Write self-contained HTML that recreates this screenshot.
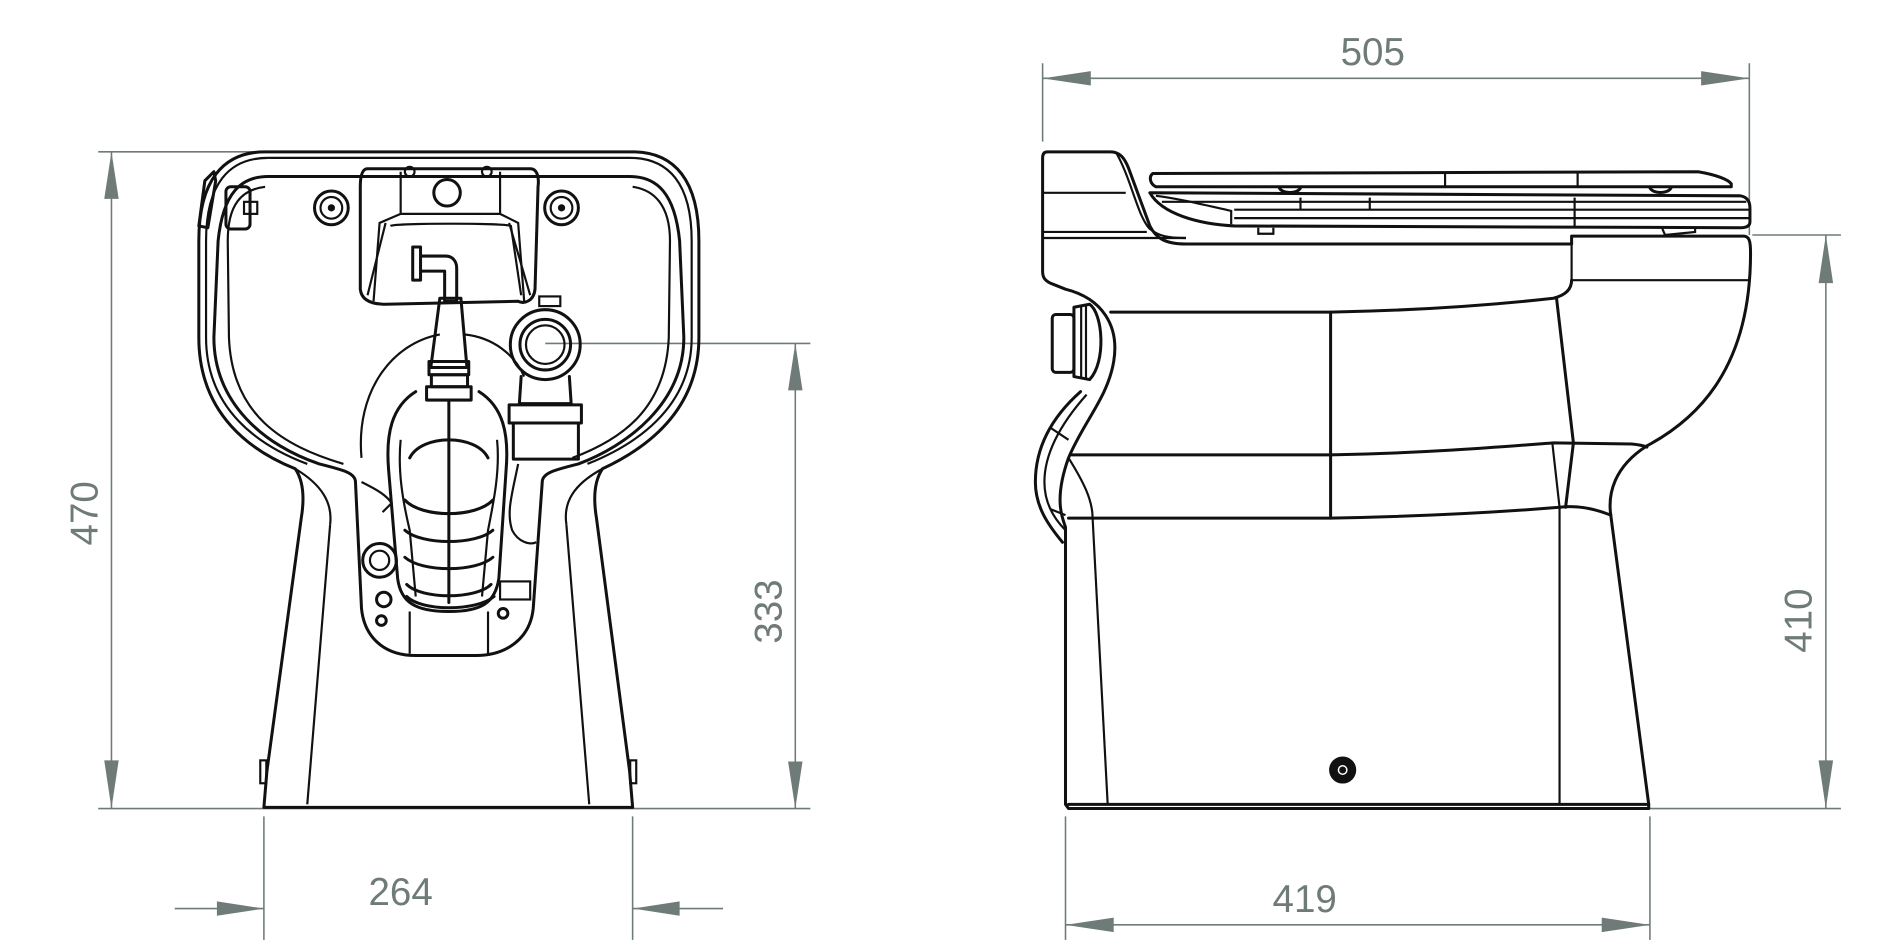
<!DOCTYPE html>
<html><head><meta charset="utf-8"><style>
html,body{margin:0;padding:0;background:#fff;width:1890px;height:945px;overflow:hidden}
svg{display:block}
.d{stroke:#6f7b78;stroke-width:2.6;fill:none}
.a{fill:#6f7b78;stroke:none}
.t{fill:#6f7b78;font-family:"Liberation Sans",sans-serif;font-size:64px}
.k{stroke:#111;stroke-width:5;fill:none;stroke-linejoin:round;stroke-linecap:round}
.kt{stroke:#111;stroke-width:3.6;fill:none}
</style></head><body>
<svg width="1890" height="945" viewBox="0 0 1890 945" xmlns="http://www.w3.org/2000/svg">
<!-- LEFT VIEW -->
<g transform="scale(0.6025)">
  <line class="d" x1="163" y1="252" x2="440" y2="252"/>
  <line class="d" x1="163" y1="1342" x2="1345" y2="1342"/>
  <line class="d" x1="185" y1="252" x2="185" y2="1342"/>
  <polygon class="a" points="185,252 173,330 197,330"/>
  <polygon class="a" points="185,1342 173,1262 197,1262"/>
  <text class="t" transform="translate(162,852) rotate(-90)" text-anchor="middle">470</text>
  <line class="d" x1="905" y1="570" x2="1345" y2="570"/>
  <line class="d" x1="1320" y1="570" x2="1320" y2="1342"/>
  <polygon class="a" points="1320,570 1308,648 1332,648"/>
  <polygon class="a" points="1320,1342 1308,1264 1332,1264"/>
  <text class="t" transform="translate(1297,1015) rotate(-90)" text-anchor="middle">333</text>
  <line class="d" x1="438" y1="1355" x2="438" y2="1560"/>
  <line class="d" x1="1050" y1="1355" x2="1050" y2="1560"/>
  <line class="d" x1="290" y1="1508" x2="438" y2="1508"/>
  <line class="d" x1="1050" y1="1508" x2="1200" y2="1508"/>
  <polygon class="a" points="438,1508 360,1496 360,1520"/>
  <polygon class="a" points="1050,1508 1128,1496 1128,1520"/>
  <text class="t" x="665" y="1502" text-anchor="middle">264</text>
  <path class="k" d="M440,252 L1050,252 C1120,252 1160,300 1160,400 L1160,560 C1160,690 1060,750 1000,778 C985,800 985,830 990,860 L1045,1280 L1050,1340 L438,1340 L443,1280 L500,860 C505,830 505,800 490,778 C420,750 330,690 330,560 L330,400 C330,300 370,252 440,252 Z"/>
  <path class="kt" d="M445,262 L1045,262 C1110,262 1148,305 1148,400 L1148,560 C1148,680 1050,740 975,770"/>
  <path class="kt" d="M445,262 C380,262 342,305 342,400 L342,560 C342,680 430,740 510,770"/>
  <path class="k" d="M445,293 L1045,293 C1090,293 1120,320 1128,400 L1135,560 C1135,670 1040,740 960,770 C920,780 900,785 900,800 L885,1010 C880,1060 840,1088 790,1088 L690,1088 C640,1088 605,1060 600,1010 L590,800 C590,785 570,780 530,770 C440,740 355,670 355,560 L362,400 C370,320 400,293 445,293 Z"/>
  <path class="kt" d="M440,310 C400,315 378,340 378,400 L380,560 C385,690 470,740 570,770"/>
  <path class="kt" d="M1050,310 C1085,315 1112,340 1112,400 L1110,560 C1105,680 1030,730 950,760"/>
  <path class="kt" d="M548,870 L510,1335"/>
  <path class="kt" d="M940,870 L978,1335"/>
  <path class="kt" d="M490,778 C535,805 552,835 548,870"/>
  <path class="kt" d="M1000,778 C950,805 935,835 940,870"/>
  <rect class="kt" x="432" y="1262" width="10" height="38"/>
  <rect class="kt" x="1046" y="1262" width="10" height="38"/>
  <path class="k" d="M355,285 L340,300 L330,375 L345,378 L358,300 Z"/>
  <rect class="k" x="375" y="310" width="40" height="70" rx="8"/>
  <rect class="kt" x="405" y="335" width="22" height="20"/>
  <circle class="k" cx="550" cy="345" r="28"/><circle class="kt" cx="550" cy="345" r="18"/><circle cx="550" cy="345" r="6" fill="#111"/>
  <circle class="k" cx="932" cy="345" r="28"/><circle class="kt" cx="932" cy="345" r="18"/><circle cx="932" cy="345" r="6" fill="#111"/>
  <path class="k" d="M610,280 L880,280 C892,280 895,295 893,310 L888,480 C886,500 870,505 860,500 L640,505 C620,505 600,500 598,480 L598,310 C598,290 602,280 610,280 Z"/>
  <path class="kt" d="M665,285 L665,355 L830,355 L830,285"/>
  <path class="kt" d="M665,355 L630,370 L620,500 M830,355 L860,370 L870,500"/>
  <path class="kt" d="M640,370 L610,490 M845,370 L880,490"/>
  <path class="kt" d="M648,375 C655,370 840,370 848,375 L865,490"/>
  <circle class="k" cx="742" cy="320" r="22"/>
  <circle class="kt" cx="680" cy="285" r="8"/><circle class="kt" cx="808" cy="285" r="8"/>
  <path class="k" d="M685,410 L685,465 L698,465 L698,410 Z M698,425 L740,425 C752,425 758,435 758,445 L758,500 L738,500 L738,450 L698,450"/>
  <path class="k" d="M730,495 L715,610 L775,610 L765,495 Z"/>
  <rect class="k" x="712" y="600" width="66" height="22"/>
  <rect class="k" x="716" y="622" width="60" height="20"/>
  <rect class="k" x="708" y="642" width="74" height="22"/>
  <path class="k" d="M690,650 C650,675 640,720 645,780 L660,960 C665,1000 690,1015 745,1015 C800,1015 822,1000 828,960 L840,780 C845,720 835,675 795,650"/>
  <path class="kt" d="M665,730 C660,780 668,830 680,880 L690,990 M825,730 C830,780 820,830 810,880 L800,990"/>
  <path class="k" d="M680,760 C700,720 790,720 810,760 M672,830 C700,860 790,860 818,830 M672,880 C700,905 790,905 818,880 M672,925 C700,950 790,950 818,925 M675,970 C700,995 790,995 815,970"/>
  <line class="k" x1="745" y1="665" x2="745" y2="1000"/>
  <path class="k" d="M675,990 C700,1015 790,1015 820,990" stroke-width="9"/>
  <path class="kt" d="M600,760 C590,650 650,570 730,555 M770,555 C820,560 855,590 870,625"/>
  <circle class="k" cx="905" cy="572" r="58"/><circle class="k" cx="905" cy="572" r="42"/><circle class="kt" cx="905" cy="572" r="32"/>
  <rect class="kt" x="895" y="492" width="35" height="16"/>
  <path class="k" d="M865,625 L862,670 L948,670 L945,625"/>
  <rect class="k" x="845" y="672" width="120" height="30"/>
  <rect class="k" x="852" y="702" width="108" height="60"/>
  <path class="kt" d="M860,770 C850,820 840,850 850,880 C860,900 880,905 890,900"/>
  <circle class="k" cx="630" cy="930" r="28"/><circle class="kt" cx="630" cy="930" r="16"/>
  <circle class="k" cx="637" cy="995" r="12"/>
  <circle class="k" cx="633" cy="1030" r="8"/><circle class="k" cx="835" cy="1018" r="8"/>
  <rect class="kt" x="830" y="965" width="50" height="30"/>
  <path class="kt" d="M680,1015 L680,1085 M810,1015 L810,1085"/>
  <path class="kt" d="M600,800 C620,810 640,820 650,835 L635,850"/>
</g>

<!-- RIGHT VIEW -->
<g transform="translate(945,0) scale(0.6025)">
  <line class="d" x1="162" y1="105" x2="162" y2="235"/>
  <line class="d" x1="1335" y1="105" x2="1335" y2="390"/>
  <line class="d" x1="162" y1="130" x2="1335" y2="130"/>
  <polygon class="a" points="162,130 242,118 242,142"/>
  <polygon class="a" points="1335,130 1255,118 1255,142"/>
  <text class="t" x="710" y="108" text-anchor="middle">505</text>
  <line class="d" x1="1340" y1="390" x2="1487" y2="390"/>
  <line class="d" x1="1170" y1="1342" x2="1487" y2="1342"/>
  <line class="d" x1="1462" y1="390" x2="1462" y2="1342"/>
  <polygon class="a" points="1462,390 1450,470 1474,470"/>
  <polygon class="a" points="1462,1342 1450,1262 1474,1262"/>
  <text class="t" transform="translate(1438,1030) rotate(-90)" text-anchor="middle">410</text>
  <line class="d" x1="200" y1="1355" x2="200" y2="1560"/>
  <line class="d" x1="1170" y1="1355" x2="1170" y2="1560"/>
  <line class="d" x1="200" y1="1535" x2="1170" y2="1535"/>
  <polygon class="a" points="200,1535 280,1523 280,1547"/>
  <polygon class="a" points="1170,1535 1090,1523 1090,1547"/>
  <text class="t" x="597" y="1514" text-anchor="middle">419</text>
  <path class="k" d="M170,252 L275,252 C290,252 298,262 305,280 L340,375 C350,395 365,405 400,405 L1040,405 L1040,392 L1325,392 C1335,392 1337,400 1337,420 C1337,620 1240,700 1165,740 C1110,775 1100,820 1105,855 L1168,1335 L1168,1342 L205,1342 L200,1335 L200,875 C195,860 180,830 205,760 C230,700 270,660 280,600 C290,540 260,495 200,480 L175,470 C165,465 162,460 162,450 L162,262 C162,255 165,252 170,252 Z"/>
  <line class="kt" x1="162" y1="320" x2="300" y2="320"/>
  <line class="kt" x1="162" y1="385" x2="335" y2="385"/>
  <line class="kt" x1="162" y1="395" x2="400" y2="395"/>
  <path class="kt" d="M285,255 C310,300 320,360 340,380 C355,392 370,395 400,395"/>
  <path class="k" d="M345,288 L1250,285 C1280,290 1300,298 1305,305 L1305,310 L350,310 C340,305 338,293 345,288 Z"/>
  <path class="k" d="M340,320 L1320,325 C1332,327 1336,335 1336,345 L1336,368 C1336,375 1330,378 1320,378 L480,375 C420,372 360,355 340,320 Z"/>
  <line class="kt" x1="360" y1="335" x2="1330" y2="335"/>
  <line class="kt" x1="480" y1="348" x2="1335" y2="348"/>
  <line class="kt" x1="480" y1="362" x2="1335" y2="362"/>
  <path class="kt" d="M830,288 L830,308 M1050,288 L1050,308 M590,328 L590,348 M705,328 L705,348 M1045,328 L1045,378"/>
  <path class="k" d="M555,312 C560,322 585,322 590,312 M1170,312 C1175,322 1200,322 1205,312"/>
  <path class="kt" d="M520,378 L520,388 L545,388 L545,378 M1190,378 L1195,390 L1245,385 L1245,378"/>
  <path class="kt" d="M350,325 C390,330 430,340 475,350 L475,372"/>
  <line class="kt" x1="1040" y1="405" x2="1040" y2="465"/>
  <line class="kt" x1="1040" y1="465" x2="1335" y2="465"/>
  <path class="k" d="M275,518 L640,518 C800,515 920,505 1010,495 C1030,490 1040,480 1040,465"/>
  <line class="k" x1="640" y1="518" x2="640" y2="860"/>
  <path class="k" d="M210,755 L640,755 C800,752 920,742 1010,735 L1140,737 C1150,738 1160,740 1165,742"/>
  <path class="k" d="M205,860 L640,860 C800,857 920,850 1020,842 C1050,838 1080,845 1105,855"/>
  <path class="k" d="M1015,495 L1043,735 L1030,842"/>
  <path class="kt" d="M1008,735 L1020,842 L1020,1335"/>
  <path class="kt" d="M205,760 C230,800 245,830 245,860 L270,1335"/>
  <line class="k" x1="205" y1="1335" x2="1168" y2="1335"/>
  <circle cx="660" cy="1278" r="21" style="fill:#111;stroke:#111;stroke-width:3"/>
  <circle cx="660" cy="1278" r="7" style="fill:none;stroke:#fff;stroke-width:2.5"/>
  <rect class="k" x="178" y="522" width="36" height="96" rx="6"/>
  <path class="k" d="M214,510 L240,505 C262,520 268,600 240,630 L214,625 Z"/>
  <path class="kt" d="M226,508 L226,628 M234,506 L234,630"/>
  <path class="k" d="M225,650 C180,690 150,740 150,800 C150,840 170,870 195,900"/>
  <path class="kt" d="M235,655 C195,700 165,750 165,800 C165,835 180,860 200,880"/>
  <path class="kt" d="M175,710 L205,730 M175,845 L200,855"/>
</g>
</svg>
</body></html>
